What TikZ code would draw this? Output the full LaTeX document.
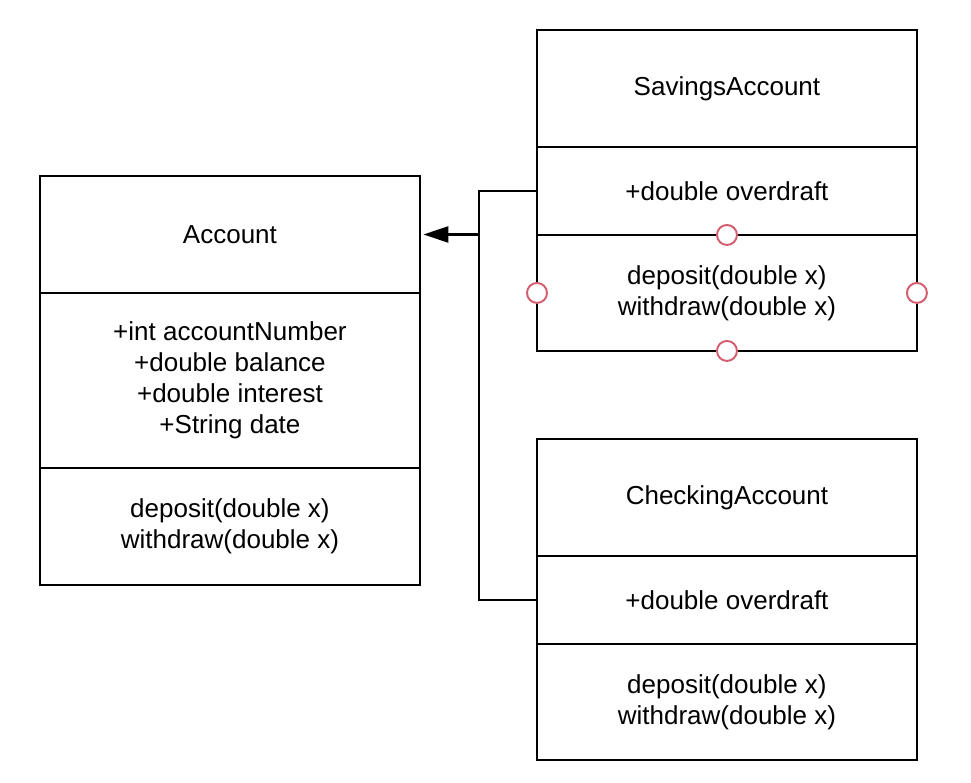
\documentclass[tikz,border=0pt]{standalone}
\usepackage{fontspec}
\setmainfont{Liberation Sans}
\usetikzlibrary{arrows.meta, positioning}

\definecolor{ptred}{RGB}{212,92,110}

\begin{document}
\begin{tikzpicture}[
  x=0.02cm, y=-0.02cm,
  font=\fontsize{14.8}{17.6}\selectfont,
  cell/.style  = {draw, line width=1.5pt, outer sep=0pt, inner sep=0pt,
                  minimum width=7.6cm, text centered, align=center},
  namecell/.style = {cell, minimum height=2.34cm},
  attrcell/.style = {cell, minimum height=1.76cm},
  opscell/.style  = {cell, minimum height=2.32cm},
  pt/.style    = {circle, draw=ptred, fill=white, line width=1.1pt,
                  minimum size=0.4cm, inner sep=0pt},
  wire/.style  = {line width=1.5pt},
  arr/.style   = {wire, -{Triangle[length=5mm, width=3.2mm]}, shorten >=2pt}
]
\useasboundingbox (0,0) rectangle (971,783);

% Account
\node[namecell, anchor=north west] (acc-name) at (40,176) {Account};
\node[cell, minimum height=3.5cm, below=0pt of acc-name] (acc-attr)
  {+int accountNumber\\+double balance\\+double interest\\+String date};
\node[namecell, below=0pt of acc-attr] (acc-ops)
  {deposit(double x)\\withdraw(double x)};

% SavingsAccount
\node[namecell, anchor=north west] (sav-name) at (537,30) {SavingsAccount};
\node[attrcell, below=0pt of sav-name] (sav-attr) {+double overdraft};
\node[opscell, below=0pt of sav-attr] (sav-ops)
  {deposit(double x)\\withdraw(double x)};

% CheckingAccount
\node[namecell, anchor=north west] (chk-name) at (537,439) {CheckingAccount};
\node[attrcell, below=0pt of chk-name] (chk-attr) {+double overdraft};
\node[opscell, below=0pt of chk-attr] (chk-ops)
  {deposit(double x)\\withdraw(double x)};

% inheritance
\coordinate (bus) at (479,0);
\draw[wire] (sav-attr.west) -- (sav-attr.west -| bus)
  -- (chk-attr.west -| bus) -- (chk-attr.west);
\draw[arr] (acc-name.east -| bus) -- (acc-name.east);

% connection points
\foreach \side in {north, west, east, south}
  \node[pt] at (sav-ops.\side) {};
\end{tikzpicture}
\end{document}
